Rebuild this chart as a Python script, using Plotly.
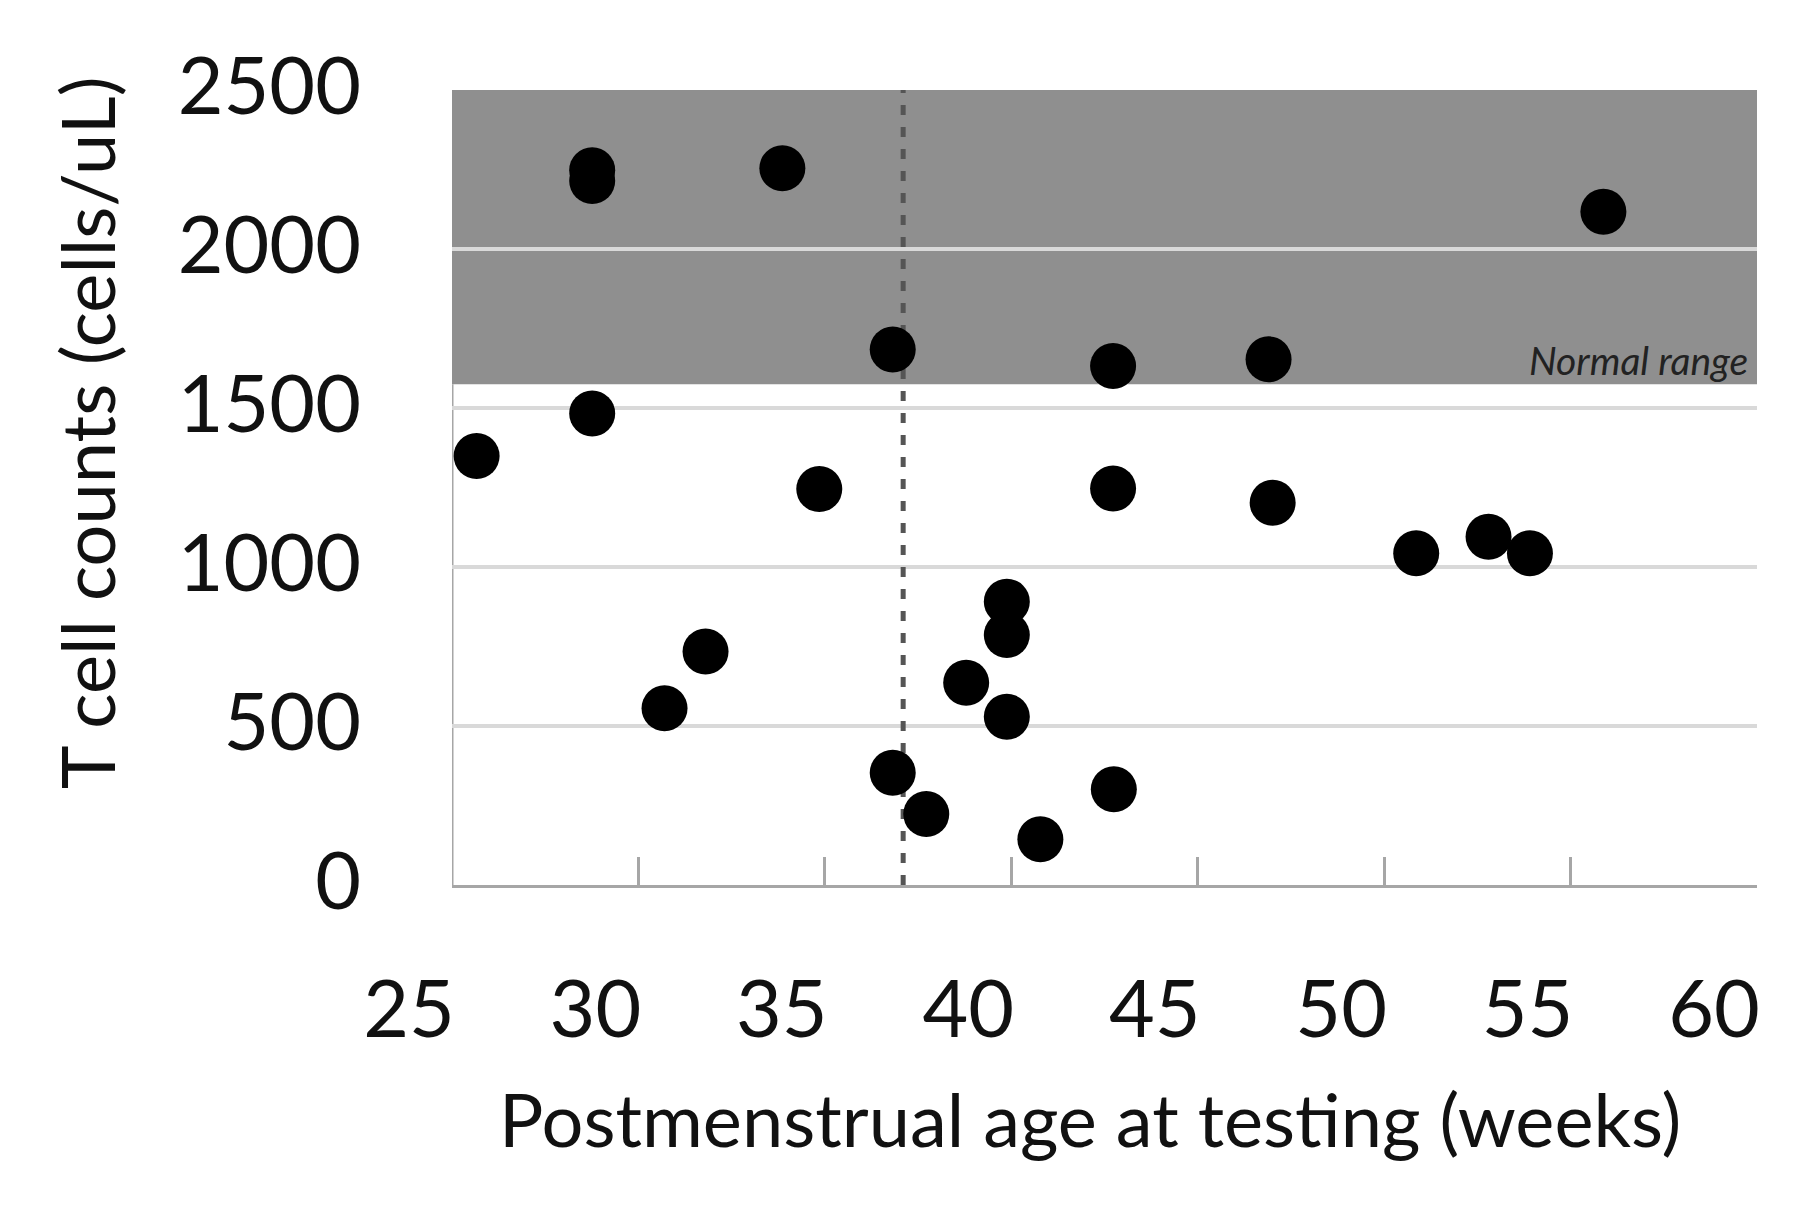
import plotly.graph_objects as go

# Data
age_weeks = [25.66, 28.76, 28.76, 28.76, 30.70, 31.80, 33.86, 34.85, 36.82, 36.82,
             37.72, 38.79, 39.88, 39.88, 39.88, 40.78, 42.73, 42.73, 42.75, 46.90,
             47.01, 50.86, 52.80, 53.91, 55.88]
t_cell_counts = [1349, 2248, 2214, 1483, 556, 734, 2254, 1245, 1684, 353,
                 223, 636, 891, 786, 529, 144, 1632, 1247, 301, 1653,
                 1202, 1043, 1095, 1043, 2117]

x_ticks = [25, 30, 35, 40, 45, 50, 55, 60]
y_ticks = [0, 500, 1000, 1500, 2000, 2500]
normal_range = [1575, 2500]
term_age = 37.1

FONT = "Lato"
TXT = "#111111"
AXIS_GRAY = "#a6a6a6"

fig = go.Figure()
fig.add_trace(go.Scatter(
    x=age_weeks, y=t_cell_counts, mode="markers",
    marker=dict(color="black", size=46, line=dict(width=0)),
    showlegend=False, hoverinfo="x+y"))

# Normal range band
fig.add_shape(type="rect", xref="x", yref="y", x0=x_ticks[0], x1=x_ticks[-1],
              y0=normal_range[0], y1=normal_range[1],
              fillcolor="rgb(143,143,143)", line=dict(width=0), layer="below")
# Y axis line (visible only below band)
fig.add_shape(type="line", xref="x", yref="y", x0=x_ticks[0], x1=x_ticks[0],
              y0=0, y1=normal_range[0], line=dict(color=AXIS_GRAY, width=3), layer="below")
# Term age dashed line
fig.add_shape(type="line", xref="x", yref="y", x0=term_age, x1=term_age,
              y0=0, y1=normal_range[1], line=dict(color="#555555", width=5, dash="10px,12px"),
              layer="between")

fig.add_annotation(text="<i>Normal range</i>", xref="x", yref="y",
                   x=x_ticks[-1], y=normal_range[0], xanchor="right", yanchor="bottom",
                   xshift=-8, yshift=0, showarrow=False, borderpad=0,
                   font=dict(family=FONT, size=39, color="#222222"))

# Axis titles as annotations for precise placement
fig.add_annotation(text="T cell counts (cells/uL)", xref="paper", yref="paper",
                   x=-0.2796, y=0.5686, xanchor="center", yanchor="middle",
                   textangle=-90, showarrow=False,
                   font=dict(family=FONT, size=74, color=TXT))
fig.add_annotation(text="Postmenstrual age at testing (weeks)", xref="paper", yref="paper",
                   x=0.489, y=-0.294, xanchor="center", yanchor="middle",
                   showarrow=False, font=dict(family=FONT, size=74, color=TXT))

fig.update_xaxes(range=[x_ticks[0], x_ticks[-1]], tickvals=x_ticks,
                 ticktext=[str(v) for v in x_ticks],
                 showgrid=False, zeroline=False,
                 showline=True, linecolor=AXIS_GRAY, linewidth=3,
                 ticks="inside", ticklen=28, tickwidth=3, tickcolor=AXIS_GRAY,
                 ticklabelshift=-43, ticklabelstandoff=54,
                 tickfont=dict(family=FONT, size=79, color=TXT))
fig.update_yaxes(range=[0, 2500], tickvals=y_ticks,
                 ticktext=[str(v) for v in y_ticks],
                 showgrid=True, gridcolor="#d9d9d9", gridwidth=4,
                 zeroline=False, showline=False, ticks="",
                 ticklabelstandoff=90, ticklabelshift=-4,
                 tickfont=dict(family=FONT, size=79, color=TXT))

# page body has an 8px offset, compensate in margins
fig.update_layout(width=1800, height=1210,
                  margin=dict(l=444, r=51, t=82, b=333, autoexpand=False),
                  paper_bgcolor="white", plot_bgcolor="white",
                  font=dict(family=FONT, color=TXT))

fig.write_html("out.html")
